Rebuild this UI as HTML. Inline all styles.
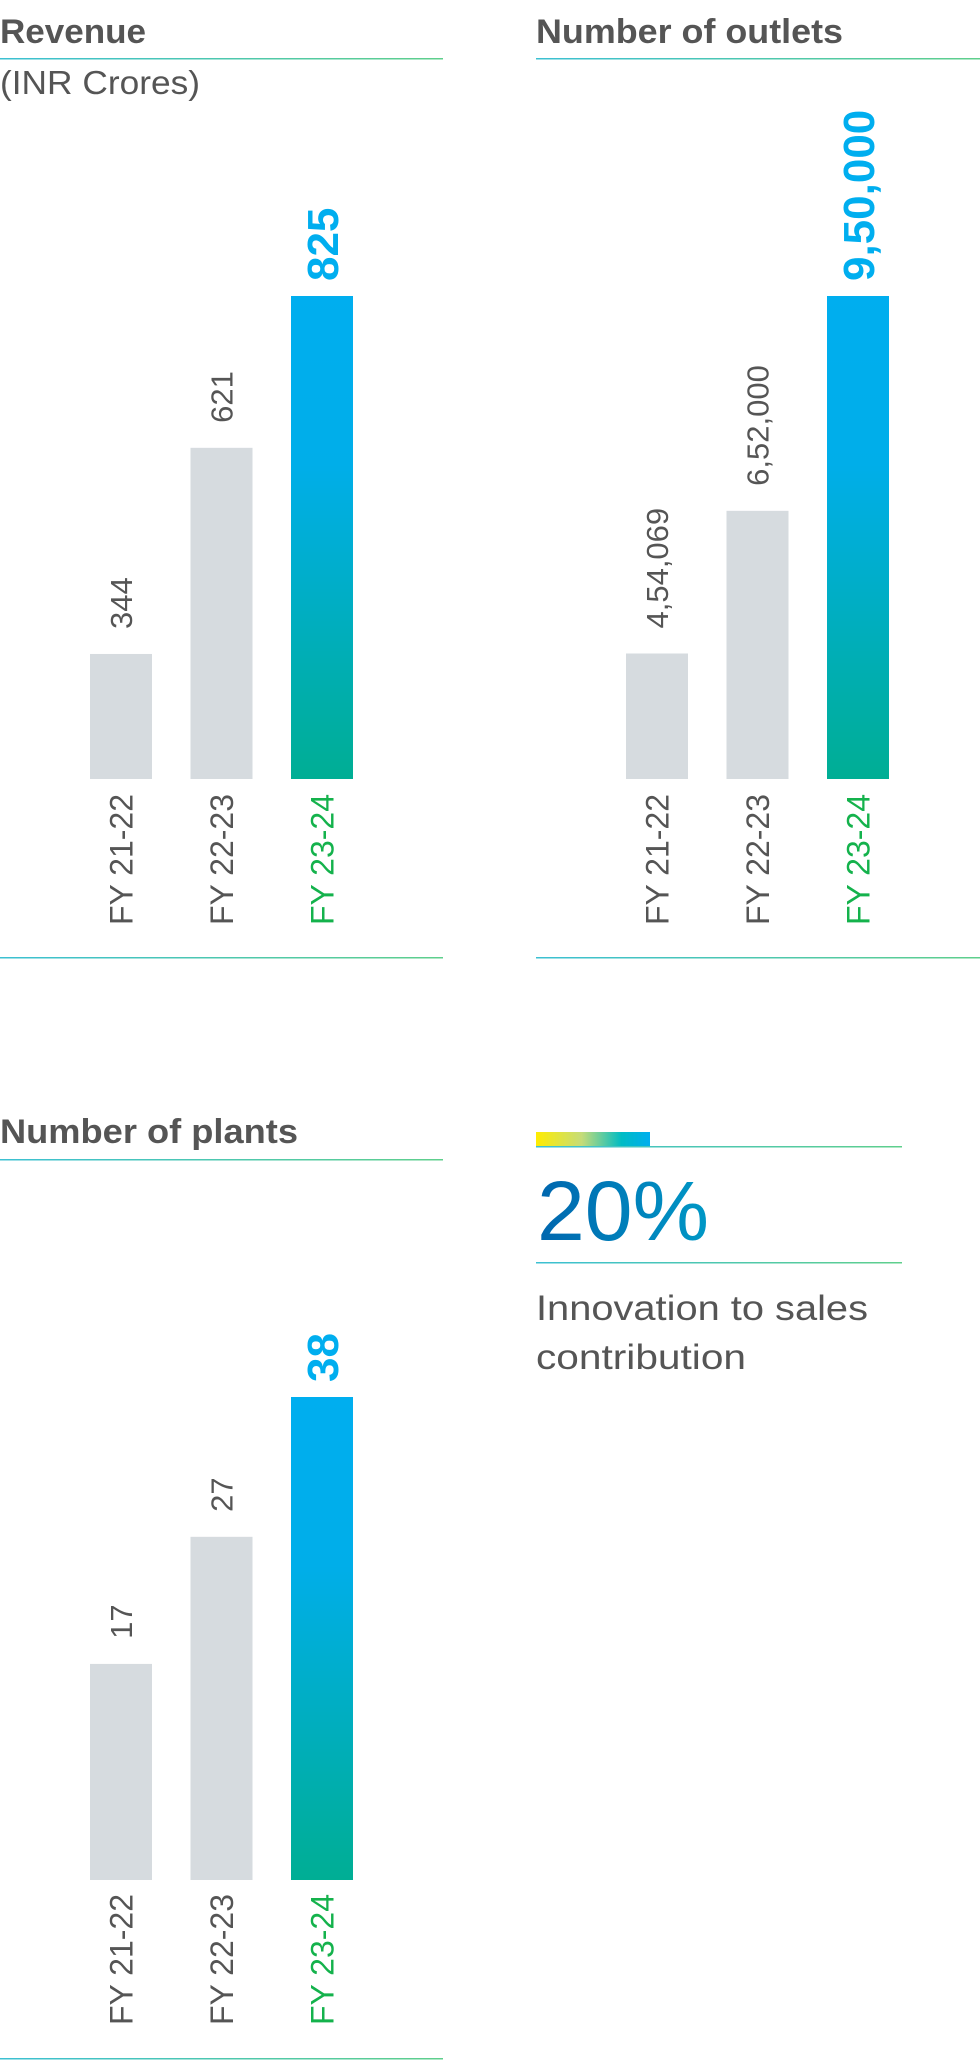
<!DOCTYPE html>
<html><head><meta charset="utf-8"><style>
html,body{margin:0;padding:0;background:#fff;}
svg{display:block;font-family:"Liberation Sans",sans-serif;}
</style></head><body>
<svg id="page" width="980" height="2060" viewBox="0 0 980 2060" xmlns="http://www.w3.org/2000/svg">
<defs>
<linearGradient id="rule" x1="0" x2="1" y1="0" y2="0"><stop offset="0" stop-color="#3cc0d2"/><stop offset="1" stop-color="#5fcf8c"/></linearGradient>
<linearGradient id="barg" x1="0" x2="0" y1="0" y2="1"><stop offset="0" stop-color="#00aeef"/><stop offset="0.35" stop-color="#00aee9"/><stop offset="1" stop-color="#00ae94"/></linearGradient>
<linearGradient id="kpig" x1="0" x2="1" y1="0" y2="0"><stop offset="0" stop-color="#ffec00"/><stop offset="0.4" stop-color="#c5dc78"/><stop offset="0.75" stop-color="#00bcc4"/><stop offset="1" stop-color="#00aeef"/></linearGradient>
<linearGradient id="numg" x1="0" x2="1" y1="0" y2="0"><stop offset="0" stop-color="#0066ae"/><stop offset="1" stop-color="#0098c6"/></linearGradient>
</defs>
<g>
<text x="0" y="43" font-size="34" font-weight="bold" fill="#555" textLength="146" lengthAdjust="spacingAndGlyphs">Revenue</text>
<rect x="0" y="58" width="443" height="1.5" fill="url(#rule)"/>
<text x="0" y="94" font-size="33" fill="#555" textLength="200" lengthAdjust="spacingAndGlyphs">(INR Crores)</text>
<g id="chart-revenue"></g>
<rect x="0" y="957" width="443" height="1.5" fill="url(#rule)"/>
</g>
<g>
<text x="536" y="43" font-size="34" font-weight="bold" fill="#555" textLength="307" lengthAdjust="spacingAndGlyphs">Number of outlets</text>
<rect x="536" y="58" width="444" height="1.5" fill="url(#rule)"/>
<g id="chart-outlets"></g>
<rect x="536" y="957" width="444" height="1.5" fill="url(#rule)"/>
</g>
<g>
<text x="0" y="1143" font-size="34" font-weight="bold" fill="#555" textLength="298" lengthAdjust="spacingAndGlyphs">Number of plants</text>
<rect x="0" y="1159" width="443" height="1.5" fill="url(#rule)"/>
<g id="chart-plants"></g>
<rect x="0" y="2058" width="443" height="1.5" fill="url(#rule)"/>
</g>
<g>
<rect x="536" y="1132" width="114" height="14" fill="url(#kpig)"/>
<rect x="536" y="1146" width="366" height="1.5" fill="url(#rule)"/>
<text x="537" y="1240" font-size="84" fill="url(#numg)" textLength="172" lengthAdjust="spacingAndGlyphs">20%</text>
<rect x="536" y="1262" width="366" height="1.5" fill="url(#rule)"/>
<text x="536" y="1320" font-size="35" fill="#555" textLength="332" lengthAdjust="spacingAndGlyphs">Innovation to sales</text>
<text x="536" y="1369" font-size="35" fill="#555" textLength="210" lengthAdjust="spacingAndGlyphs">contribution</text>
</g>
</svg>
<script>
const categories = ["FY 21-22", "FY 22-23", "FY 23-24"];
const revenueValues = [344, 621, 825];
const revenueLabels = ["344", "621", "825"];
const outletValues = [454069, 652000, 950000];
const outletLabels = ["4,54,069", "6,52,000", "9,50,000"];
const plantValues = [17, 27, 38];
const plantLabels = ["17", "27", "38"];

const NS = "http://www.w3.org/2000/svg";
function mk(tag, attrs){const e=document.createElementNS(NS,tag);for(const k in attrs)e.setAttribute(k,attrs[k]);return e;}

function drawChart(gid, prefix, values, labels, left, baseY, domainMin, labelBottom){
  const g = document.getElementById(gid);
  const maxH = 483;
  const vmax = Math.max(...values);
  const yScale = v => baseY - (v - domainMin) / (vmax - domainMin) * maxH;
  const xCenter = i => left + 121 + i * 100.5;
  const bw = 62;
  values.forEach((v, i) => {
    const last = i === values.length - 1;
    const top = yScale(v);
    const cx = xCenter(i);
    const r = mk('rect', {x: cx - bw/2, y: top, width: bw, height: baseY - top, fill: last ? 'url(#barg)' : '#d6dbdf'});
    
    
    g.appendChild(r);
    const fs = last ? 44 : 31;
    const lx = cx + fs * 0.36;
    const ly = top - (last ? 15 : 25);
    const t = mk('text', {x: lx, y: ly, transform: 'rotate(-90 ' + lx + ' ' + ly + ')', 'font-size': fs, 'font-weight': last ? 'bold' : 'normal', fill: last ? '#00aeef' : '#555'});
    t.textContent = labels[i];
    
    
    g.appendChild(t);
    const cxl = cx + 11.5;
    const c = mk('text', {x: cxl, y: labelBottom, transform: 'rotate(-90 ' + cxl + ' ' + labelBottom + ')', 'font-size': 32, fill: last ? '#14b24c' : '#555', textLength: 131, lengthAdjust: 'spacingAndGlyphs'});
    c.textContent = categories[i];
    
    
    g.appendChild(c);
  });
}
drawChart('chart-revenue', 'revenue', revenueValues, revenueLabels, 0, 779, 176, 925);
drawChart('chart-outlets', 'outlets', outletValues, outletLabels, 536, 779, 280000, 925);
drawChart('chart-plants', 'plants', plantValues, plantLabels, 0, 1880, 0, 2025);
</script>
</body></html>
